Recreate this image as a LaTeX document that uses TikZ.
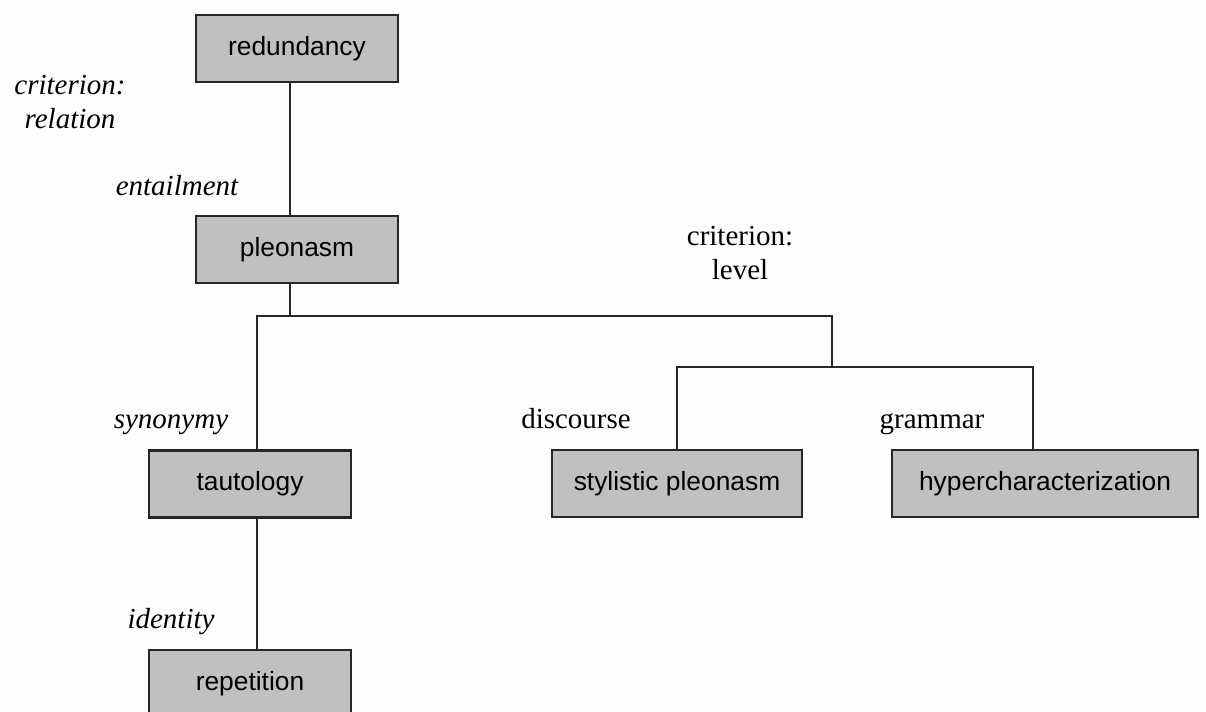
\documentclass[tikz,border=0pt]{standalone}
\usepackage{fontspec}
\setmainfont{Liberation Serif}
\newfontfamily\boxfont{Liberation Sans}
\usepackage{xcolor}
\usepackage{tikz}
\usetikzlibrary{positioning}

\definecolor{boxgray}{HTML}{C0C0C0}
\definecolor{paper}{HTML}{FDFDFB}

\begin{document}
\begin{tikzpicture}[x=0.02cm,y=-0.02cm,
		box/.style={draw=black!85,fill=boxgray,line width=1.2pt,inner sep=0pt,
			minimum width=4.04cm,minimum height=1.34cm,font=\boxfont\fontsize{15}{18}\selectfont},
		lab/.style={font=\fontsize{16.5}{19}\selectfont,align=center,inner sep=0pt},
		itlab/.style={lab,font=\itshape\fontsize{16.5}{19}\selectfont},
		conn/.style={line width=1.1pt,black!85}]
		\fill[paper] (0,0) rectangle (1206,711);
		\useasboundingbox (0,0) rectangle (1206,711);
		%
		\node[box] (red) at (297,48.5) {redundancy};
		\node[box] (pleo) at (297,249.5) {pleonasm};
		\node[box] (taut) at (250,484) {tautology};
		\node[box] (rep) at (250,683.5) {repetition};
		\node[box,minimum width=5cm] (styl) at (677,483.5) {stylistic pleonasm};
		\node[box,minimum width=6.12cm] (hyper) at (1045,483.5) {hypercharacterization};
		%
		\coordinate (top) at (290,316);
		\coordinate (left) at (257,316);
		\coordinate (right) at (832,316);
		\coordinate (sub) at (832,367);
		\coordinate (subl) at (677,367);
		\coordinate (subr) at (1033,367);
		%
		\draw[conn] (red.south -| top) -- (pleo.north -| top);
		\draw[conn] (pleo.south -| top) -- (top);
		\draw[conn] (taut.north -| left) -- (left) -- (right) -- (sub);
		\draw[conn] (styl.north -| subl) -- (subl) -- (subr) -- (hyper.north -| subr);
		\draw[conn] (taut.south -| left) -- (rep.north -| left);
		%
		\node[itlab] (rel) at (70,102) {criterion:\\relation};
		\node[itlab,anchor=base] (ent) at (177,195) {entailment};
		\node[itlab,anchor=base] (syn) at (171,428) {synonymy};
		\node[itlab,anchor=base] (ide) at (171,628) {identity};
		\node[lab] (lev) at (740,253) {criterion:\\level};
		\node[lab,anchor=base] (dis) at (576,428) {discourse};
		\node[lab,anchor=base] (gra) at (932,428) {grammar};
	\end{tikzpicture}
\end{document}
